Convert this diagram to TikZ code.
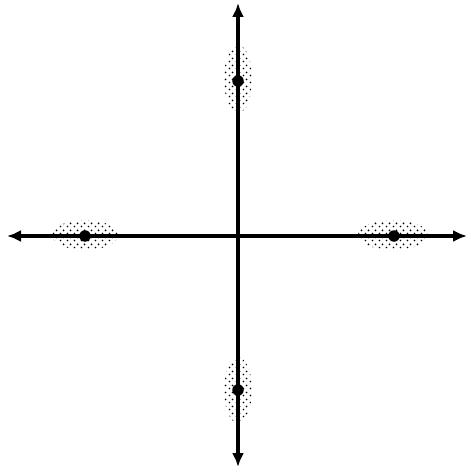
\documentclass[tikz,border=0pt]{standalone}
\usetikzlibrary{patterns.meta,arrows.meta}
\tikzdeclarepattern{
  name=mydots,
  type=uncolored,
  bounding box={(0pt,0pt) and (6.5pt,6.5pt)},
  tile size={(6.5pt,6.5pt)},
  code={\fill (1.6pt,1.6pt) circle [radius=1pt]; \fill (4.85pt,4.85pt) circle [radius=1pt];}
}
\begin{document}
\begin{tikzpicture}[x=1pt,y=-1pt,
  axis/.style={line width=3.2pt,-{Latex[length=14pt,width=12pt]}},
  pt/.style={circle,fill=black,inner sep=0pt,minimum size=11.5pt},
  cloud/.style={pattern={mydots},pattern color=black}]
\useasboundingbox (0,0) rectangle (469,470);
% clouds
\fill[cloud] (238,79) ellipse [x radius=14,y radius=34];
\fill[cloud] (238,390) ellipse [x radius=14,y radius=33];
\fill[cloud] (85,235) ellipse [x radius=33,y radius=15];
\fill[cloud] (393,235) ellipse [x radius=35,y radius=15];
% axes
\coordinate (o) at (238,236);
\coordinate (l) at (7,236);
\coordinate (r) at (467,236);
\coordinate (t) at (238,3);
\coordinate (b) at (238,467);
\draw[axis] (o) -- (r);
\draw[axis] (o) -- (l);
\draw[axis] (o) -- (t);
\draw[axis] (o) -- (b);
% points
\node[pt] (p1) at (238,81) {};
\node[pt] (p2) at (85,236) {};
\node[pt] (p3) at (394,236) {};
\node[pt] (p4) at (238,390) {};
\end{tikzpicture}
\end{document}
